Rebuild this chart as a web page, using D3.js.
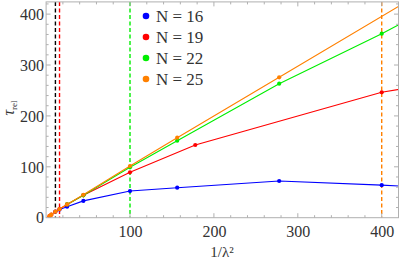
<meta charset="utf-8">
<html>
<head>
<style>
  body { margin: 0; background: #fff; }
</style>
</head>
<body>
<svg width="399" height="264"></svg>
<script src="https://d3js.org/d3.v7.min.js"></script>
<script>

// 1/lambda^2 and tau_rel for each N (last point lies past the frame, only the line shows)
var x16 = [11.1, 16, 25, 44.4, 100, 156.25, 277.8, 400, 625];
var y16 = [12, 16, 21.6, 33, 52.4, 58.9, 72.1, 64, 45];

var x19 = [4, 6.25, 11.1, 16, 25, 44.4, 100, 177.8, 400, 625];
var y19 = [3, 6, 12, 17, 26, 44, 89.2, 142.8, 246.4, 309];

var x22 = [25, 44.4, 100, 156.25, 277.8, 400, 625];
var y22 = [26, 44, 99, 151.3, 263.3, 361.5, 559];

var x25 = [4, 6.25, 11.1, 16, 25, 44.4, 100, 156.25, 277.8, 625];
var y25 = [3, 6, 12, 17, 26, 45, 101.6, 157.2, 275.8, 616];

var labels = ["N = 16", "N = 19", "N = 22", "N = 25"];
var colors = ["#0000ff", "#ff0000", "#00ee00", "#ff8000"];

// dashed markers
var vx = [11.1, 16, 100, 400];
var vcol = ["#000000", "#ff0000", "#00ee00", "#ff8000"];

var xticks = [100, 200, 300, 400];
var yticks = [0, 100, 200, 300, 400];

var serif = "'Liberation Serif'";

var svg = d3.select("svg");

var x = d3.scaleLinear().domain([0, 420]).range([46.1, 398.5]),
    y = d3.scaleLinear().domain([0, 424]).range([217.7, 1.9]);

var L = x.range()[0], R = x.range()[1], B = y.range()[0], T = y.range()[1];

svg.append("clipPath").attr("id", "clip")
  .append("rect").attr("x", L).attr("y", T).attr("width", R - L).attr("height", B - T);

var series = [
  {name: labels[0], xs: x16, ys: y16, c: colors[0]},
  {name: labels[1], xs: x19, ys: y19, c: colors[1]},
  {name: labels[2], xs: x22, ys: y22, c: colors[2]},
  {name: labels[3], xs: x25, ys: y25, c: colors[3]}
];

var plot = svg.append("g").attr("clip-path", "url(#clip)");

// vertical dashed lines
plot.selectAll(".vline")
  .data(vx)
  .enter().append("line")
    .attr("x1", function(d) { return x(d); })
    .attr("x2", function(d) { return x(d); })
    .attr("y1", T).attr("y2", B)
    .attr("stroke", function(d, i) { return vcol[i]; })
    .attr("stroke-width", 1.4)
    .attr("stroke-dasharray", "4,2.5");

var line = d3.line()
  .x(function(d) { return x(d[0]); })
  .y(function(d) { return y(d[1]); });

series.forEach(function(s) {
  var pts = s.xs.map(function(v, i) { return [v, s.ys[i]]; });
  plot.append("path")
    .datum(pts)
    .attr("fill", "none")
    .attr("stroke", s.c)
    .attr("stroke-width", 1.1)
    .attr("d", line);
  plot.selectAll(null)
    .data(pts.filter(function(d) { return d[0] <= 420; }))
    .enter().append("circle")
      .attr("cx", function(d) { return x(d[0]); })
      .attr("cy", function(d) { return y(d[1]); })
      .attr("r", 2.1)
      .attr("fill", s.c);
});

// frame with inside ticks on all sides
var frameCol = "#b0b0b0";
var fr = svg.append("g");
fr.append("rect")
  .attr("x", L).attr("y", T).attr("width", R - L).attr("height", B - T)
  .attr("fill", "none").attr("stroke", frameCol).attr("stroke-width", 1);

d3.range(20, 420, 20).forEach(function(v) {
  var major = v % 100 === 0, len = major ? 4.5 : 2.5;
  fr.append("line").attr("x1", x(v)).attr("x2", x(v)).attr("y1", B).attr("y2", B - len).attr("stroke", frameCol);
  fr.append("line").attr("x1", x(v)).attr("x2", x(v)).attr("y1", T).attr("y2", T + len).attr("stroke", frameCol);
});
d3.range(20, 424, 20).forEach(function(v) {
  var major = v % 100 === 0, len = major ? 4.5 : 2.5;
  fr.append("line").attr("y1", y(v)).attr("y2", y(v)).attr("x1", L).attr("x2", L + len).attr("stroke", frameCol);
  fr.append("line").attr("y1", y(v)).attr("y2", y(v)).attr("x1", R).attr("x2", R - len).attr("stroke", frameCol);
});

// tick labels via axes (no lines)
var gx = svg.append("g")
  .attr("transform", "translate(0," + B + ")")
  .call(d3.axisBottom(x).tickValues(xticks).tickSize(0).tickPadding(8));
gx.select(".domain").remove();

var gy = svg.append("g")
  .attr("transform", "translate(" + L + ",0)")
  .call(d3.axisLeft(y).tickValues(yticks).tickSize(0).tickPadding(2));
gy.select(".domain").remove();

svg.selectAll(".tick text")
  .attr("fill", "#333")
  .style("font-family", serif)
  .style("font-size", "16px");
gx.attr("font-family", null);
gy.attr("font-family", null);
gy.selectAll(".tick text").attr("dy", "0.33em");

// axis titles
var xt = svg.append("text")
  .attr("x", 222).attr("y", 257)
  .attr("text-anchor", "middle")
  .attr("fill", "#333")
  .style("font-family", serif)
  .style("font-size", "15px")
  .text("1/λ²");

var yt = svg.append("text")
  .attr("transform", "translate(14,108) rotate(-90)")
  .attr("text-anchor", "middle")
  .attr("fill", "#333")
  .style("font-family", serif)
  .style("font-size", "16px");
yt.append("tspan").style("font-style", "italic").text("τ");
yt.append("tspan").attr("dy", 3).style("font-size", "9px").text("rel");

// legend
var leg = svg.append("g").selectAll(".leg")
  .data(series)
  .enter().append("g")
    .attr("transform", function(d, i) { return "translate(146," + (16 + i * 21) + ")"; });
leg.append("circle").attr("r", 3.3).attr("fill", function(d) { return d.c; });
leg.append("text")
  .attr("x", 10).attr("dy", "0.35em")
  .attr("fill", "#333")
  .style("font-family", serif)
  .style("font-size", "17px")
  .text(function(d) { return d.name; });

</script>
</body>
</html>
